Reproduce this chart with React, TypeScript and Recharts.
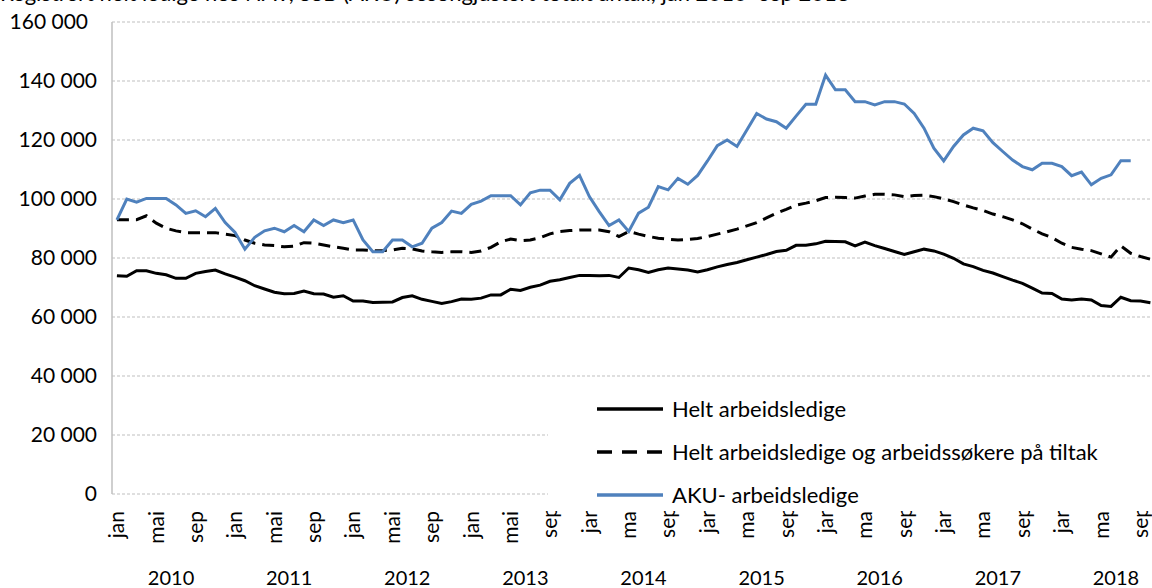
import React from 'react';
import { LineChart, Line, XAxis, YAxis, CartesianGrid, Legend } from 'recharts';

// monthly, jan 2010 -> oct 2018 (index 0 = jan 2010)
const YEARS = ['2010', '2011', '2012', '2013', '2014', '2015', '2016', '2017', '2018'];
const MONTHS = ['jan', 'feb', 'mar', 'apr', 'mai', 'jun', 'jul', 'aug', 'sep', 'okt', 'nov', 'des'];

const HELT = [
  74000, 73800, 75700, 75700, 74800, 74300, 73100, 73100, 74800, 75400, 75900, 74600,
  73500, 72300, 70600, 69500, 68400, 67900, 68000, 68800, 67900, 67800, 66700, 67200,
  65400, 65400, 64900, 65000, 65100, 66600, 67200, 66000, 65300, 64600, 65200, 66100,
  66000, 66400, 67500, 67500, 69400, 69000, 70100, 70800, 72100, 72600, 73400, 74100,
  74100, 74000, 74100, 73400, 76600, 76000, 75100, 76000, 76600, 76300, 75900, 75300,
  76000, 77000, 77800, 78500, 79400, 80300, 81200, 82200, 82600, 84300, 84300, 84800,
  85700, 85600, 85500, 84100, 85400, 84200, 83200, 82200, 81200, 82100, 83000, 82400,
  81300, 79900, 78000, 77100, 75800, 74900, 73700, 72500, 71400, 69800, 68100, 68000,
  66100, 65800, 66100, 65800, 63900, 63600, 66700, 65500, 65400, 64800,
];

const TILTAK = [
  93000, 93000, 93000, 94300, 91800, 90100, 89200, 88600, 88600, 88600, 88600, 88100,
  87600, 86100, 85000, 84400, 84200, 83800, 84000, 85200, 85000, 84400, 83800, 83300,
  82700, 82700, 82500, 82500, 82700, 83300, 83100, 82400, 82100, 81900, 82100, 82100,
  81900, 82400, 83600, 85500, 86400, 85900, 86100, 86900, 88200, 89000, 89300, 89500,
  89500, 89500, 88900, 87300, 89000, 88100, 87300, 86700, 86400, 86100, 86300, 86600,
  87300, 88100, 88900, 89800, 90900, 92000, 93600, 95200, 96500, 97900, 98600, 99400,
  100500, 100600, 100500, 100300, 101000, 101600, 101600, 101400, 100800, 101200, 101300, 100800,
  100100, 99100, 98000, 97000, 96100, 94900, 94000, 92900, 91600, 89800, 88200, 86900,
  85000, 83600, 83000, 82500, 81400, 80300, 84100, 81600, 80500, 79600,
];

const AKU = [
  92900, 100000, 98900, 100200, 100200, 100200, 98000, 95100, 96000, 94000, 96800, 92000,
  88700, 83000, 87000, 89200, 90100, 88900, 91000, 88900, 92900, 91000, 92900, 92000,
  92900, 86100, 82100, 82100, 86100, 86100, 83800, 85000, 90100, 92000, 95900, 95100,
  98200, 99300, 101100, 101100, 101100, 98000, 102100, 103000, 103000, 99700, 105300, 108000,
  100800, 95700, 91000, 92900, 89000, 95200, 97200, 104200, 103100, 107000, 105000, 108000,
  112900, 118100, 120000, 117800, 123400, 129000, 127100, 126200, 124000, 128100, 132100, 132100,
  142000, 137000, 137000, 133000, 133000, 131900, 133000, 133000, 132200, 129000, 124000, 117200,
  112900, 117800, 121700, 124000, 123100, 119100, 116100, 113200, 111000, 109900, 112100, 112100,
  111000, 107900, 109100, 104800, 107000, 108200, 113000, 113000,
];

const Y_TICKS = [0, 20000, 40000, 60000, 80000, 100000, 120000, 140000, 160000];

const SERIES = [
  { key: 'helt', name: 'Helt arbeidsledige', color: '#000000', dash: undefined },
  { key: 'tiltak', name: 'Helt arbeidsledige og arbeidssøkere på tiltak', color: '#000000', dash: '12 7' },
  { key: 'aku', name: 'AKU- arbeidsledige', color: '#4f81bd', dash: undefined },
];

const N = YEARS.length * 12;
const data = Array.from({ length: N }, (_, i) => ({
  idx: i,
  helt: HELT[i],
  tiltak: TILTAK[i],
  aku: AKU[i],
}));

// month ticks every 4th month, year labels in the middle of each year
const monthTicks = Array.from({ length: 27 }, (_, k) => k * 4);
const yearTicks = YEARS.map((_, k) => k * 12 + 5.5);

const FONT = 'Lato, "Open Sans", sans-serif';

const fmt = (v: number) => (v === 0 ? '0' : String(v).replace(/\B(?=(\d{3})+(?!\d))/g, ' '));

const YTick = (props: any) => {
  const { x, y, payload } = props;
  const v = payload.value as number;
  // top label sits a bit further left in the original
  const dx = v === 160000 ? -9 : 0;
  return (
    <text x={x + dx} y={y} dy="0.35em" textAnchor="end" fontFamily={FONT} fontSize={21} fill="#000">
      {fmt(v)}
    </text>
  );
};

const XTick = (props: any) => {
  const { x, payload } = props;
  const v = payload.value as number;
  if (!Number.isInteger(v)) {
    return (
      <text x={x} y={585} textAnchor="middle" fontFamily={FONT} fontSize={20} fill="#000">
        {YEARS[Math.floor(v / 12)]}
      </text>
    );
  }
  const label = MONTHS[v % 12];
  const top = 511;
  // from sep 2013 the labels are cut at the top, like in the original
  const cut = v >= 44;
  const ty = cut ? top - 5 : top;
  const id = `xclip-${v}`;
  return (
    <g>
      {cut && (
        <defs>
          <clipPath id={id}>
            <rect x={x - 20} y={top} width={40} height={70} />
          </clipPath>
        </defs>
      )}
      <g clipPath={cut ? `url(#${id})` : undefined}>
        <text
          x={x}
          y={ty}
          dy="0.35em"
          textAnchor="end"
          transform={`rotate(-90, ${x}, ${ty})`}
          fontFamily={FONT}
          fontSize={21}
          fill="#000"
        >
          {label}
        </text>
      </g>
    </g>
  );
};

const LegendBox = () => (
  <div style={{ position: 'relative', width: 640, height: 125, background: '#fff', fontFamily: FONT, fontSize: 22 }}>
    {SERIES.map((s, k) => (
      <div key={s.key} style={{ position: 'absolute', left: 49, top: 24 + k * 43 - 14, height: 28, display: 'flex', alignItems: 'center' }}>
        <svg width={66} height={8} style={{ display: 'block' }}>
          <line x1={0} y1={4} x2={66} y2={4} stroke={s.color} strokeWidth={3.5} strokeDasharray={s.dash ? '15 10' : undefined} />
        </svg>
        <span style={{ marginLeft: 9, color: '#000', whiteSpace: 'nowrap', lineHeight: '28px' }}>{s.name}</span>
      </div>
    ))}
  </div>
);

export default function App() {
  return (
    <div style={{ position: 'fixed', left: 0, top: 0, width: 1152, height: 588, overflow: 'hidden', background: '#fff' }}>
      <div style={{ position: 'absolute', left: 0, top: -18, fontFamily: FONT, fontSize: 22, lineHeight: '22px', whiteSpace: 'nowrap', color: '#000' }}>
        Registrert helt ledige hos NAV, SSB (AKU) sesongjustert totalt antall, jan 2010–sep 2018
      </div>
      <LineChart width={1180} height={588} data={data} margin={{ top: 22, right: 5, left: 0, bottom: 0 }}>
        <CartesianGrid vertical={false} stroke="#bfbfbf" strokeDasharray="3 2" />
        <XAxis
          dataKey="idx"
          type="number"
          domain={[-0.5, N - 0.5]}
          ticks={[...monthTicks, ...yearTicks]}
          interval={0}
          tick={<XTick />}
          axisLine={false}
          tickLine={false}
          height={94}
        />
        <YAxis
          domain={[0, 160000]}
          ticks={Y_TICKS}
          width={112}
          tickLine={false}
          tickMargin={9}
          axisLine={{ stroke: '#bfbfbf', strokeWidth: 1.5 }}
          tick={<YTick />}
        />
        <Legend
          layout="horizontal"
          verticalAlign="middle"
          align="center"
          content={<LegendBox />}
          wrapperStyle={{ left: 548, top: 385, width: 640, height: 125 }}
        />
        {SERIES.map(s => (
          <Line
            key={s.key}
            dataKey={s.key}
            name={s.name}
            type="linear"
            stroke={s.color}
            strokeWidth={3}
            strokeDasharray={s.dash}
            dot={false}
            activeDot={false}
            isAnimationActive={false}
          />
        ))}
      </LineChart>
    </div>
  );
}
